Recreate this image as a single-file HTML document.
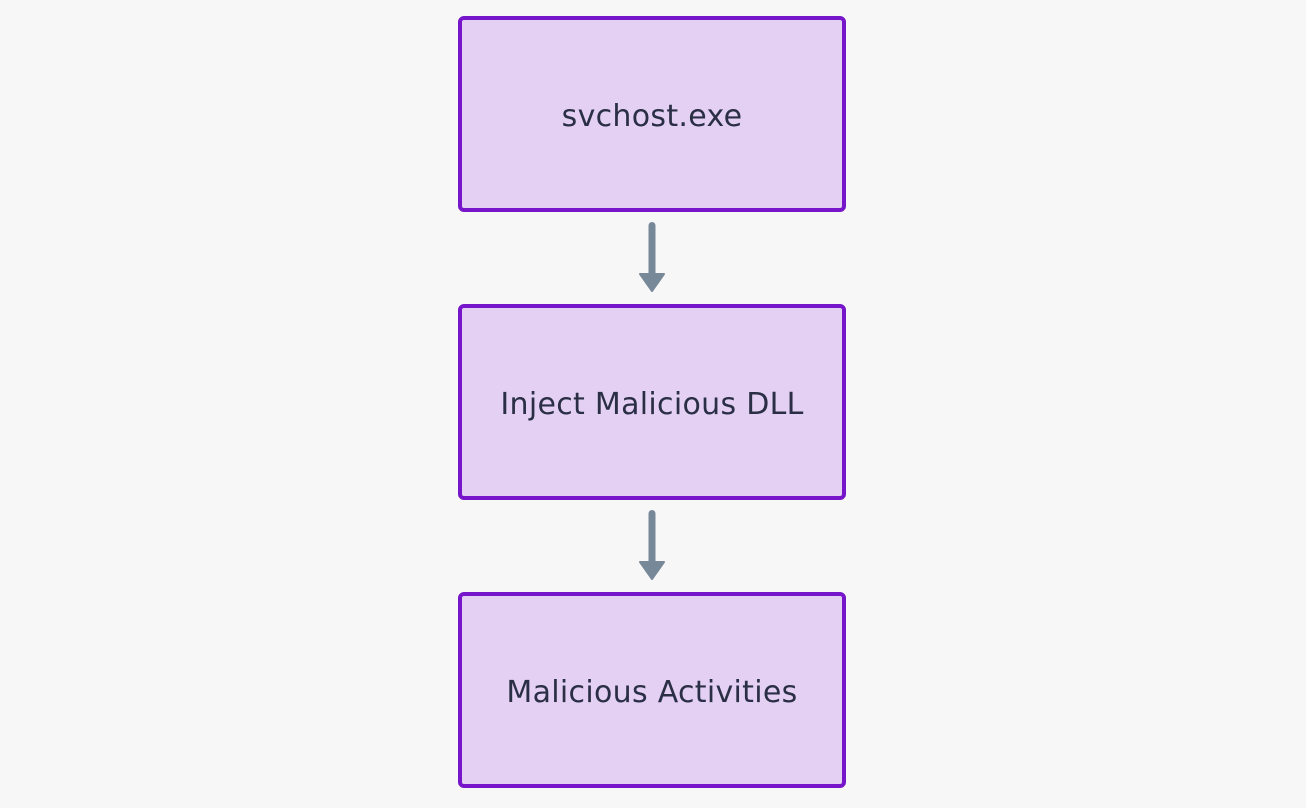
<!DOCTYPE html>
<html><head><style>
body{margin:0;width:1306px;height:808px;background:#f7f7f7;position:relative;overflow:hidden;font-family:"DejaVu Sans","Liberation Sans",sans-serif;}
.b{position:absolute;left:458px;width:380px;height:183px;border:4px solid #7615c9;border-radius:6px;background:#e3d0f3;display:flex;align-items:center;justify-content:center;font-size:30px;color:#2b2f45;letter-spacing:0.3px;padding-top:5px;box-sizing:content-box}
</style></head><body>
<div class="b" style="top:16px">svchost.exe</div>
<div class="b" style="top:304px">Inject Malicious DLL</div>
<div class="b" style="top:592px">Malicious Activities</div>
<svg width="1306" height="808" style="position:absolute;left:0;top:0">
<g fill="#778899" stroke="#778899" stroke-linejoin="round">
<rect x="648.5" y="222" width="7" height="56" rx="3.5" stroke="none"/>
<polygon points="640,274 664,274 652,291" stroke-width="2"/>
<rect x="648.5" y="510" width="7" height="56" rx="3.5" stroke="none"/>
<polygon points="640,562 664,562 652,579" stroke-width="2"/>
</g></svg>
</body></html>
